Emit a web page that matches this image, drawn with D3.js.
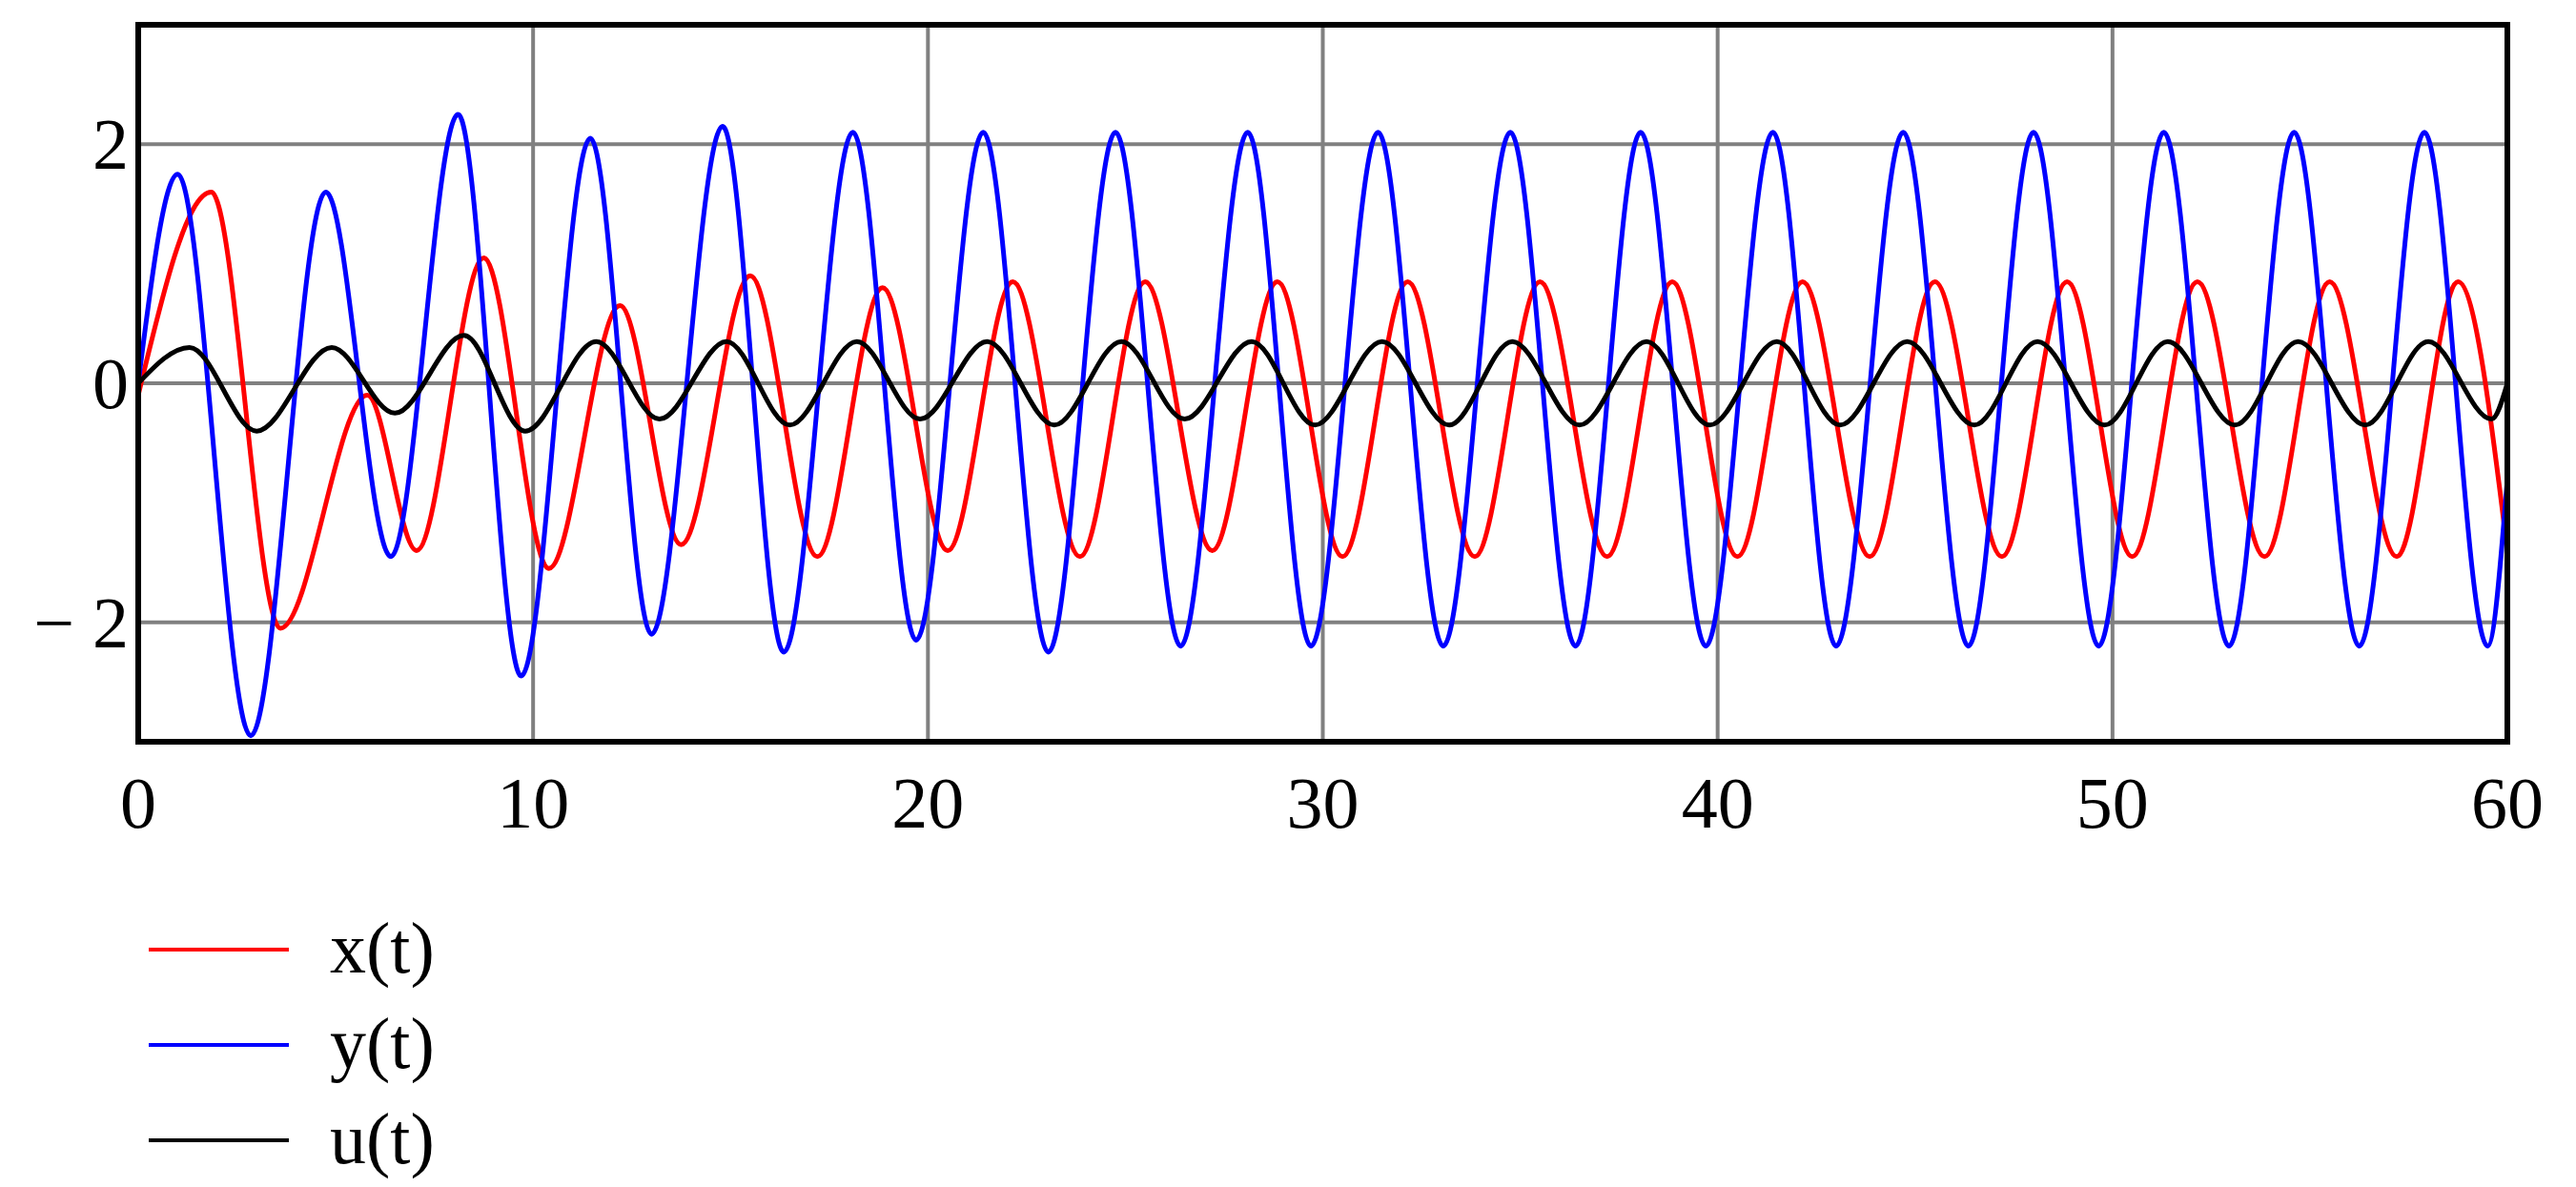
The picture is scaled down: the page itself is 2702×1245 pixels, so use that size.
<!DOCTYPE html>
<meta charset="utf-8">
<title>x, y, u</title>
<style>
body { margin: 0; background: #fff; }
text { font-family: "Liberation Serif", "DejaVu Serif", serif; fill: #000; }
.grid line { stroke: #808080; stroke-width: 4px; }
.series { fill: none; stroke-width: 5px; }
</style>
<body>
<script src="https://cdn.jsdelivr.net/npm/d3@7"></script>
<script>

var width = 2702,
    height = 1245,
    margin = {left: 145, right: 62, top: 26, bottom: 467};

// extrema: [t, value]
var xSeries = [[0,-0.1],[1.85,1.6],[3.6,-2.05],[5.8,-0.1],[7.05,-1.4],[8.75,1.05],[10.4,-1.55],[12.2,0.65],
  [13.75,-1.35],[15.5,0.9],[17.2,-1.45],[18.85,0.8],[20.5,-1.4],[22.15,0.85],[23.85,-1.45],[25.5,0.85],
  [27.2,-1.4],[28.85,0.85],[30.5,-1.45],[32.15,0.85],[33.85,-1.45],[35.5,0.85],[37.2,-1.45],[38.85,0.85],
  [40.5,-1.45],[42.15,0.85],[43.85,-1.45],[45.5,0.85],[47.2,-1.45],[48.85,0.85],[50.5,-1.45],[52.15,0.85],
  [53.85,-1.45],[55.5,0.85],[57.2,-1.45],[58.75,0.85],[60,-1.4]];

var ySeries = [[0,0],[1.0,1.75],[2.85,-2.95],[4.75,1.6],[6.4,-1.45],[8.1,2.25],[9.7,-2.45],[11.45,2.05],
  [13.0,-2.1],[14.8,2.15],[16.35,-2.25],[18.1,2.1],[19.7,-2.15],[21.4,2.1],[23.05,-2.25],[24.75,2.1],
  [26.4,-2.2],[28.1,2.1],[29.7,-2.2],[31.4,2.1],[33.05,-2.2],[34.75,2.1],[36.4,-2.2],[38.05,2.1],
  [39.7,-2.2],[41.4,2.1],[43.0,-2.2],[44.7,2.1],[46.35,-2.2],[48.0,2.1],[49.65,-2.2],[51.3,2.1],
  [52.95,-2.2],[54.6,2.1],[56.25,-2.2],[57.9,2.1],[59.5,-2.2],[60,-0.8]];

var uSeries = [[0,0],[1.3,0.3],[3.0,-0.4],[4.9,0.3],[6.5,-0.25],[8.25,0.4],[9.8,-0.4],[11.6,0.35],
  [13.2,-0.3],[14.9,0.35],[16.5,-0.35],[18.2,0.35],[19.8,-0.3],[21.5,0.35],[23.2,-0.35],[24.9,0.35],
  [26.5,-0.3],[28.2,0.35],[29.8,-0.35],[31.5,0.35],[33.2,-0.35],[34.8,0.35],[36.5,-0.35],[38.2,0.35],
  [39.8,-0.35],[41.5,0.35],[43.1,-0.35],[44.8,0.35],[46.5,-0.35],[48.1,0.35],[49.8,-0.35],[51.4,0.35],
  [53.1,-0.35],[54.7,0.35],[56.4,-0.35],[58.0,0.35],[59.6,-0.3],[60,0]];

var xTicks = [0, 10, 20, 30, 40, 50, 60],
    yTicks = [-2, 0, 2],
    yTickLabels = ["\u2212 2", "0", "2"];

var series = [
  {name: "x(t)", color: "#ff0000", values: xSeries},
  {name: "y(t)", color: "#0000ff", values: ySeries},
  {name: "u(t)", color: "#000000", values: uSeries}
];

var svg = d3.select("body").append("svg")
    .attr("width", width)
    .attr("height", height);

var x = d3.scaleLinear().domain([0, 60]).range([margin.left, width - margin.right - 10]),
    y = d3.scaleLinear().domain([-3, 3]).range([height - margin.bottom, margin.top]);

var grid = svg.append("g").attr("class", "grid");
grid.selectAll(".gx").data(xTicks.slice(1, -1)).enter().append("line")
    .attr("x1", x).attr("x2", x).attr("y1", y(3)).attr("y2", y(-3));
grid.selectAll(".gy").data(yTicks).enter().append("line")
    .attr("x1", x(0)).attr("x2", x(60)).attr("y1", y).attr("y2", y);

var line = d3.line()
    .x(function(d) { return x(d[0]); })
    .y(function(d) { return y(d[1]); })
    .curve(d3.curveMonotoneX);

svg.selectAll(".series").data(series).enter().append("path")
    .attr("class", "series")
    .attr("stroke", function(d) { return d.color; })
    .attr("d", function(d) { return line(d.values); });

svg.append("rect")
    .attr("x", x(0)).attr("y", y(3))
    .attr("width", x(60) - x(0)).attr("height", y(-3) - y(3))
    .attr("fill", "none").attr("stroke", "#000").attr("stroke-width", 6);

svg.selectAll(".xt").data(xTicks).enter().append("text")
    .attr("x", x).attr("y", 868)
    .attr("text-anchor", "middle")
    .style("font-size", "76px")
    .text(function(d) { return d; });

svg.selectAll(".yt").data(yTicks).enter().append("text")
    .attr("x", 135).attr("y", function(d) { return y(d) + 26; })
    .attr("text-anchor", "end")
    .style("font-size", "76px")
    .text(function(d, i) { return yTickLabels[i]; });

var legend = svg.selectAll(".legend").data(series).enter().append("g")
    .attr("transform", function(d, i) { return "translate(0," + (996 + i * 100) + ")"; });
legend.append("line")
    .attr("x1", 156).attr("x2", 303)
    .attr("stroke", function(d) { return d.color; })
    .attr("stroke-width", 4);
legend.append("text")
    .attr("x", 346).attr("y", 24)
    .style("font-size", "76px")
    .text(function(d) { return d.name; });

</script>
</body>
</html>
